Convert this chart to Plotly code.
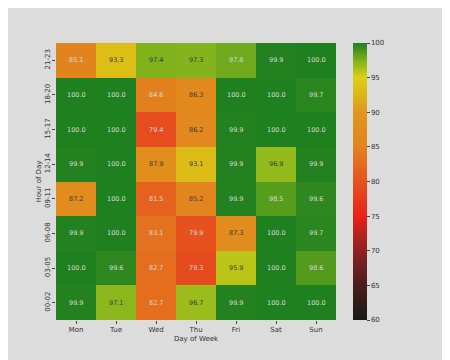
import plotly.graph_objects as go

days = ["Mon", "Tue", "Wed", "Thu", "Fri", "Sat", "Sun"]
hours = ["00-02", "03-05", "06-08", "09-11", "12-14", "15-17", "18-20", "21-23"]

# rows bottom to top
v_00_02 = [99.9, 97.1, 82.7, 96.7, 99.9, 100.0, 100.0]
v_03_05 = [100.0, 99.6, 82.7, 79.3, 95.9, 100.0, 98.6]
v_06_08 = [99.9, 100.0, 83.1, 79.9, 87.3, 100.0, 99.7]
v_09_11 = [87.2, 100.0, 81.5, 85.2, 99.9, 98.5, 99.6]
v_12_14 = [99.9, 100.0, 87.9, 93.1, 99.9, 96.9, 99.9]
v_15_17 = [100.0, 100.0, 79.4, 86.2, 99.9, 100.0, 100.0]
v_18_20 = [100.0, 100.0, 84.6, 86.3, 100.0, 100.0, 99.7]
v_21_23 = [85.1, 93.3, 97.4, 97.3, 97.8, 99.9, 100.0]

z = [v_00_02, v_03_05, v_06_08, v_09_11, v_12_14, v_15_17, v_18_20, v_21_23]

colorscale = [
    [0.0, "#1a1a1a"],
    [0.125, "#4a1c1c"],
    [0.25, "#8c2222"],
    [0.375, "#e8221a"],
    [0.5, "#e6521e"],
    [0.625, "#e2841e"],
    [0.75, "#e0961c"],
    [0.8, "#ddb018"],
    [0.875, "#dcd014"],
    [0.93, "#88b61c"],
    [1.0, "#1f801f"],
]

fig = go.Figure(go.Heatmap(
    z=z, x=days, y=hours, zmin=60, zmax=100,
    colorscale=colorscale, xgap=0, ygap=0,
    hoverinfo="skip",
    colorbar=dict(
        x=1.061, xanchor="left", xpad=0, y=0.5, yanchor="middle", ypad=0,
        len=1.0, lenmode="fraction", thickness=14,
        outlinewidth=0, ticks="outside", ticklen=3, tickcolor="#444",
        tickvals=[60, 65, 70, 75, 80, 85, 90, 95, 100],
        tickfont=dict(size=7, color="#333", family="DejaVu Sans"),
    ),
))

for i, h in enumerate(hours):
    for j, d in enumerate(days):
        v = z[i][j]
        col = "#3a3a3a" if 85.15 < v < 97.6 else "#d8d8d8"
        fig.add_annotation(x=d, y=h, text=f"{v:.1f}", showarrow=False,
                           font=dict(size=6.5, color=col, family="DejaVu Sans"))

fig.update_layout(
    width=450, height=360,
    margin=dict(l=48, r=122, t=35, b=48),
    paper_bgcolor="#dcdcdc", plot_bgcolor="#dcdcdc",
    font=dict(family="DejaVu Sans", size=7, color="#333"),
    xaxis=dict(type="category", title=dict(text="Day of Week", font=dict(size=7), standoff=2),
               ticks="outside", ticklen=3, tickcolor="#444", showgrid=False,
               zeroline=False, tickfont=dict(size=7)),
    yaxis=dict(type="category", title=dict(text="Hour of Day", font=dict(size=7), standoff=1),
               ticks="outside", ticklen=3, tickcolor="#444", showgrid=False,
               zeroline=False, tickangle=-90, tickfont=dict(size=7),
               ticklabelstandoff=-1),
)

fig.write_html("out.html")
